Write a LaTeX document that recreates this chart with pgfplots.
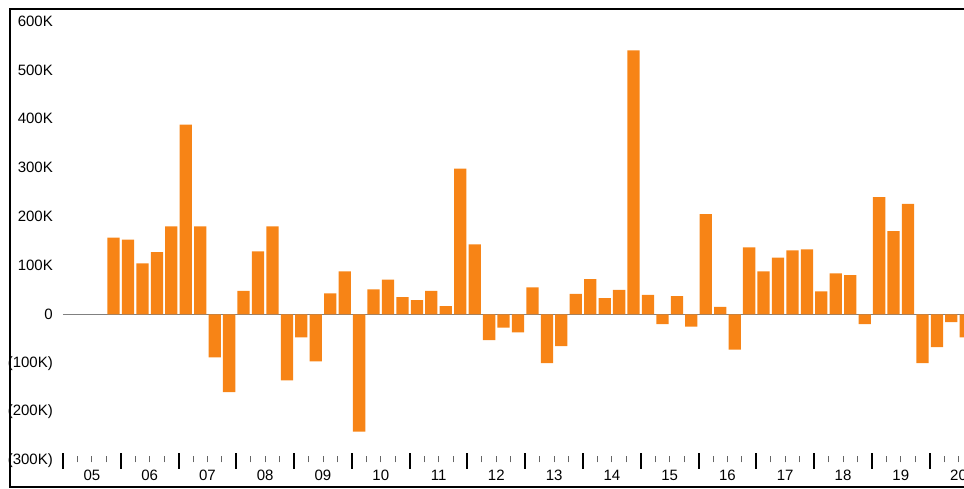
\documentclass[border=0pt]{standalone}
\usepackage{pgfplots}
\pgfplotsset{compat=1.18}
\usepackage{fontspec}
\setmainfont{Liberation Sans}
\definecolor{barorange}{RGB}{247,132,22}
\pgfplotstableread{
q v
3 157
4 153
5 104
6 127
7 180
8 388
9 180
10 -88
11 -159
12 48
13 129
14 180
15 -135
16 -47
17 -96
18 43
19 88
20 -240
21 51
22 71
23 35
24 29
25 48
26 17
27 298
28 143
29 -53
30 -27
31 -37
32 55
33 -100
34 -65
35 42
36 72
37 33
38 50
39 540
40 40
41 -20
42 37
43 -25
44 205
45 15
46 -72
47 137
48 88
49 116
50 131
51 133
52 47
53 84
54 80
55 -20
56 240
57 170
58 226
59 -100
60 -67
61 -16
62 -47
}\quarterly
\begin{document}
\begin{tikzpicture}
\useasboundingbox (0pt,0pt) rectangle (964pt,489pt);
\clip (0pt,0pt) rectangle (964pt,489pt);
\draw[line width=2pt, black] (10pt,1.5pt) rectangle (1010pt,480pt);
\begin{axis}[
  at={(63pt,28pt)}, anchor=south west,
  scale only axis, width=910pt, height=440pt,
  xmin=-0.5, xmax=62.5, ymin=-300, ymax=600,
  axis line style={draw=none},
  clip=false,
  font=\fontsize{15}{18}\selectfont,
  ytick={-300,-200,...,600},
  yticklabels={(300K),(200K),(100K),0,100K,200K,300K,400K,500K,600K},
  ytick style={draw=none},
  yticklabel style={anchor=east, inner sep=0pt, xshift=-2pt},
  ytick pos=left,
  xtick={-0.5,3.5,...,59.5},
  xticklabels={},
  minor xtick={0.5,1.5,...,61.5},
  xtick pos=bottom,
  tick align=center,
  major tick length=16pt,
  minor tick length=6pt,
  every major tick/.append style={line width=2pt, black},
  every minor tick/.append style={line width=1pt, black!60, yshift=1.5pt},
  extra x ticks={1.5,5.5,...,61.5},
  extra x tick labels={05,06,07,08,09,10,11,12,13,14,15,16,17,18,19,20},
  extra x tick style={major tick length=0pt, xticklabel style={anchor=north, inner sep=0pt, yshift=-9pt}},
]
\addplot[gray, line width=1.5pt] coordinates {(-0.5,0) (62.5,0)};
\addplot[ybar, bar width=0.85, fill=barorange, draw=none] table[x=q, y=v] {\quarterly};
\end{axis}
\end{tikzpicture}
\end{document}
